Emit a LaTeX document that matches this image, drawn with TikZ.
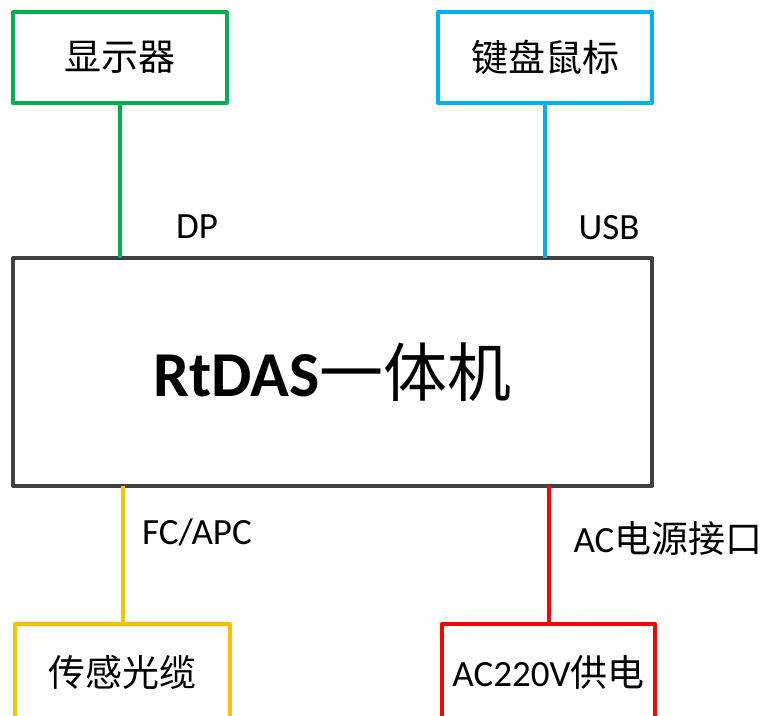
\documentclass[tikz,border=0pt]{standalone}
\usepackage{fontspec}
\setmainfont{Carlito}
\newfontfamily\cjk{Noto Sans CJK SC}
\definecolor{cgreen}{HTML}{00B050}
\definecolor{cblue}{HTML}{00B0F0}
\definecolor{cyellow}{HTML}{FFC000}
\definecolor{cred}{HTML}{FF0000}
\definecolor{cgray}{HTML}{404040}
\tikzset{
  boxsty/.style={draw, line width=4pt, line join=round, inner sep=0pt, outer sep=0pt, fill=white},
  linksty/.style={line width=4pt},
  lbl/.style={inner sep=0pt, font=\fontsize{37}{42}\selectfont},
  cjklbl/.style={font=\fontsize{37}{42}\selectfont\cjk},
}
\begin{document}
\begin{tikzpicture}[x=1pt,y=-1pt]
\useasboundingbox (0,0) rectangle (768,715);
\clip (0,0) rectangle (768,715);
\fill[white] (0,0) rectangle (768,715);
% boxes
\node[boxsty, draw=cgreen, minimum width=214pt, minimum height=91pt, cjklbl] (disp) at (120,57.5) {显示器};
\node[boxsty, draw=cblue, minimum width=214pt, minimum height=91pt, cjklbl] (kbd) at (545,57.5) {键盘鼠标};
\node[boxsty, draw=cgray, minimum width=639pt, minimum height=228pt, font=\fontsize{64}{70}\selectfont] (main) at (332.5,372) {\textbf{RtDAS}{\cjk 一体机}};
\node[boxsty, draw=cyellow, minimum width=215pt, minimum height=96pt, cjklbl] (fiber) at (122.5,672) {传感光缆};
\node[boxsty, draw=cred, minimum width=213pt, minimum height=96pt, font=\fontsize{37}{42}\selectfont] (power) at (548.5,672) {AC220V{\cjk 供电}};
% connectors
\draw[linksty, cgreen] (disp.south) -- (disp.south |- main.north);
\draw[linksty, cblue] (kbd.south) -- (kbd.south |- main.north);
\draw[linksty, cyellow] (fiber.north) -- (fiber.north |- main.south);
\draw[linksty, cred] (power.north) -- (power.north |- main.south);
% labels
\node[lbl] (dp) at (197,227) {DP};
\node[lbl] (usb) at (609,228) {USB};
\node[lbl] (fc) at (197,532) {FC/APC};
\node[lbl] (ac) at (668,538) {AC{\cjk 电源接口}};
\end{tikzpicture}
\end{document}
